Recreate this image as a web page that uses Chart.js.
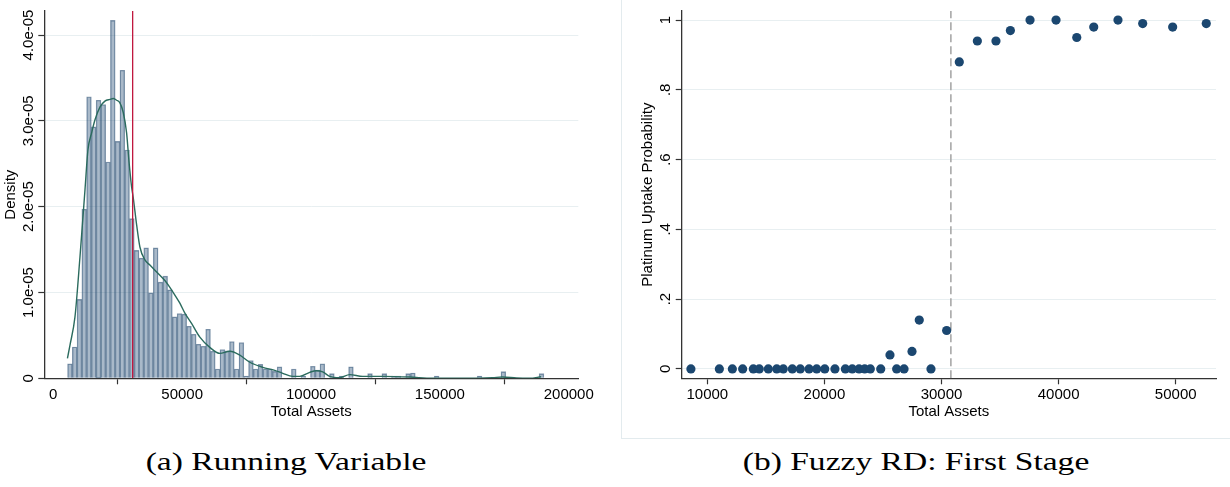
<!DOCTYPE html>
<html>
<head>
<meta charset="utf-8">
<script src="https://cdn.jsdelivr.net/npm/chart.js@4.4.0/dist/chart.umd.min.js"></script>
<style>
  html, body { margin: 0; padding: 0; background: #fff; }
  body { width: 1230px; height: 487px; position: relative; overflow: hidden; }
  #left { position: absolute; left: 0; top: 0; }
  #panel { position: absolute; left: 621px; top: -2px; width: 620px; height: 441px; border: 1px solid #e3ebee; box-sizing: border-box; }
  #right { position: absolute; left: 622px; top: 0; }
  .cap { position: absolute; top: 447px; font-family: "Liberation Serif", "Times New Roman", serif; font-size: 26px; line-height: 30px; color: #000; white-space: nowrap; transform: translateX(-50%) scaleX(1.29); }
</style>
</head>
<body>
<canvas id="left" width="600" height="430"></canvas>
<div id="panel"></div>
<canvas id="right" width="608" height="438"></canvas>
<div class="cap" style="left:286px">(a) Running Variable</div>
<div class="cap" style="left:916px">(b) Fuzzy RD: First Stage</div>
<script>
// (a) histogram of total assets, 100 bins
const binStart = 5540;
const binWidth = 1848;
// bar heights, density x 1e-6
const densityE6 = [
  1.7, 3.65, 9.2, 19.7, 32.8, 29.3, 32.4, 31.9, 25.2, 41.7,
  27.6, 35.9, 26.6, 18.6, 14.9, 14.0, 15.2, 9.95, 15.2, 11.2,
  11.9, 10.3, 7.15, 7.55, 7.47, 6.07, 5.13, 3.97, 3.73, 5.72,
  3.15, 1.08, 3.35, 3.19, 4.28, 1.08, 4.17, 0.27, 2.07, 1.08,
  1.62, 1.08, 1.08, 0.81, 1.35, 0, 0, 1.08, 0, 0.27,
  0, 1.4, 0.95, 1.7, 0, 0.54, 0, 0.27, 0, 1.35,
  0, 0, 0, 0.54, 0, 0, 0.54, 0, 0.27, 0.27,
  0, 0.54, 0.62, 0, 0, 0, 0, 0.27, 0, 0,
  0, 0, 0, 0, 0, 0, 0.27, 0, 0, 0,
  0, 0.78, 0, 0, 0, 0, 0, 0, 0, 0.54
];
// kernel density line
const kdeAssets = [5500, 6470, 8410, 10350, 12290, 13450, 14880, 16160, 18100, 20040,
  21980, 23260, 24570, 25850, 27130, 28450, 29340, 30390, 31010, 32330,
  33610, 35550, 37490, 39430, 41360, 43300, 45240, 47180, 49120, 51060,
  53650, 56870, 60740, 64620, 68500, 72370, 76250, 81280, 85940, 89030,
  92900, 95620, 99500, 102100, 104540, 107250, 111120, 115000, 120040, 127790,
  138260, 147170, 161500, 170420, 174300, 179730, 184770, 189300];
const kdeE6 = [2.33, 3.85, 7.12, 14.1, 21.9, 26.6, 28.6, 30.1, 31.6, 32.3,
  32.5, 32.6, 32.4, 32.1, 31.0, 28.6, 25.4, 22.3, 21.1, 17.9,
  15.3, 13.8, 13.2, 12.6, 12.0, 11.4, 10.6, 9.7, 8.75, 7.6,
  6.4, 4.8, 3.6, 2.9, 3.15, 2.7, 1.87, 1.28, 0.93, 0.58,
  0.23, 0.23, 0.7, 0.88, 0.74, 0.23, 0.08, 0.43, 0.23, 0.23,
  0.15, 0, 0, 0.08, 0.15, 0.03, 0, 0.18];
const cutoff = 30800;
const xTicksA = [0, 50000, 100000, 150000, 200000];
const yTicksA = [0, 1e-5, 2e-5, 3e-5, 4e-5];
const yLabelsA = ['0', '1.0e-05', '2.0e-05', '3.0e-05', '4.0e-05'];

// (b) binned platinum uptake
const binAssets = [8600, 11030, 12140, 13020, 13930, 14440, 15210, 15930, 16490, 17260,
  17940, 18690, 19340, 20030, 20900, 21790, 22380, 22960, 23440, 23920,
  24810, 25600, 26170, 26800, 27480, 28100, 29100, 30440, 31520, 33060,
  34650, 35880, 37560, 39780, 41550, 43000, 45070, 47180, 49740, 52610];
const uptake = [0, 0, 0, 0, 0, 0, 0, 0, 0, 0,
  0, 0, 0, 0, 0, 0, 0, 0, 0, 0,
  0, 0.04, 0, 0, 0.05, 0.14, 0, 0.11, 0.88, 0.94,
  0.94, 0.97, 1, 1, 0.95, 0.98, 1, 0.99, 0.98, 0.99];
const xTicksB = [10000, 20000, 30000, 40000, 50000];
const yTicksB = [0, 0.2, 0.4, 0.6, 0.8, 1];
const yLabelsB = ['0', '.2', '.4', '.6', '.8', '1'];

const sans = '"Liberation Sans", Arial, sans-serif';
Chart.defaults.font.family = sans;
Chart.defaults.font.size = 15;
Chart.defaults.color = '#000';

const axisColor = '#333';
const gridColor = '#e8eff1';

// Stata-style y labels, turned upright along the axis
const vertLabels = {
  id: 'vertLabels',
  afterDraw(chart, args, opts) {
    const s = chart.scales.y, ctx = chart.ctx;
    ctx.save();
    ctx.font = '15px ' + sans;
    ctx.fillStyle = '#000';
    ctx.textAlign = 'center';
    ctx.textBaseline = 'alphabetic';
    s.ticks.forEach((t, i) => {
      ctx.save();
      ctx.translate(s.right - opts.offset, s.getPixelForValue(t.value));
      ctx.rotate(-Math.PI / 2);
      ctx.fillText(opts.labels[i], 0, 0);
      ctx.restore();
    });
    ctx.restore();
  }
};

function xAxis(min, max, ticks, height, titlePad) {
  return {
    type: 'linear', min: min, max: max, offset: false,
    afterBuildTicks: s => { s.ticks = ticks.map(v => ({value: v})); },
    afterFit: s => { s.height = height; },
    ticks: { padding: 2, maxRotation: 0, callback: v => String(v) },
    grid: { drawOnChartArea: false, tickLength: 6, tickColor: axisColor, tickWidth: 1.2 },
    border: { color: axisColor, width: 1.3 },
    title: { display: true, text: 'Total Assets', padding: { top: 0, bottom: titlePad } }
  };
}

function yAxis(min, max, ticks, width, title, titlePad) {
  return {
    type: 'linear', min: min, max: max,
    afterBuildTicks: s => { s.ticks = ticks.map(v => ({value: v})); },
    afterFit: s => { s.width = width; },
    ticks: { display: false },
    grid: { color: gridColor, lineWidth: 1, tickLength: 6, tickColor: axisColor, tickWidth: 1.2 },
    border: { color: axisColor, width: 1.3 },
    title: { display: true, text: title, padding: { top: titlePad, bottom: 0 } }
  };
}

const yMaxA = 4.28e-5;
new Chart(document.getElementById('left'), {
  type: 'bar',
  data: {
    datasets: [{
      type: 'line',
      data: [{x: cutoff, y: 0}, {x: cutoff, y: yMaxA}],
      borderColor: '#c0183f', borderWidth: 1.3, pointRadius: 0, order: 1
    }, {
      type: 'line',
      data: kdeAssets.map((a, i) => ({x: a, y: kdeE6[i] * 1e-6})),
      borderColor: '#2b6b5e', borderWidth: 1.4, pointRadius: 0,
      cubicInterpolationMode: 'monotone', order: 2
    }, {
      type: 'bar',
      data: densityE6.map((d, i) => ({x: binStart + (i + 0.5) * binWidth, y: d * 1e-6})),
      backgroundColor: 'rgba(30,72,112,0.38)',
      borderColor: 'rgba(45,80,115,0.55)', borderWidth: 0.7,
      barPercentage: 1, categoryPercentage: 1, order: 3
    }]
  },
  options: {
    responsive: false, animation: false, devicePixelRatio: 1,
    layout: { padding: { left: 0, right: 21.7, top: 11, bottom: 0 } },
    plugins: {
      legend: { display: false }, tooltip: { enabled: false },
      vertLabels: { labels: yLabelsA, offset: 11 }
    },
    scales: {
      x: xAxis(-3480, 203700, xTicksA, 51.7, 9),
      y: yAxis(0, yMaxA, yTicksA, 44.3, 'Density', 1.5)
    }
  },
  plugins: [vertLabels]
});

const yMinB = -0.027, yMaxB = 1.026;
new Chart(document.getElementById('right'), {
  type: 'scatter',
  data: {
    datasets: [{
      type: 'line',
      data: [{x: cutoff, y: yMinB}, {x: cutoff, y: yMaxB}],
      borderColor: '#a8a8a8', borderWidth: 1.6, borderDash: [8, 4],
      pointRadius: 0, order: 2
    }, {
      type: 'scatter',
      data: binAssets.map((a, i) => ({x: a, y: uptake[i]})),
      pointRadius: 4.6, backgroundColor: '#1b4770', borderWidth: 0, order: 1
    }]
  },
  options: {
    responsive: false, animation: false, devicePixelRatio: 1,
    layout: { padding: { left: 0, right: 14, top: 11, bottom: 0 } },
    plugins: {
      legend: { display: false }, tooltip: { enabled: false },
      vertLabels: { labels: yLabelsB, offset: 11.5 }
    },
    scales: {
      x: xAxis(7814, 53440, xTicksB, 59.7, 17.3),
      y: yAxis(yMinB, yMaxB, yTicksB, 59.7, 'Platinum Uptake Probability', 16.5)
    }
  },
  plugins: [vertLabels]
});
</script>
</body>
</html>
